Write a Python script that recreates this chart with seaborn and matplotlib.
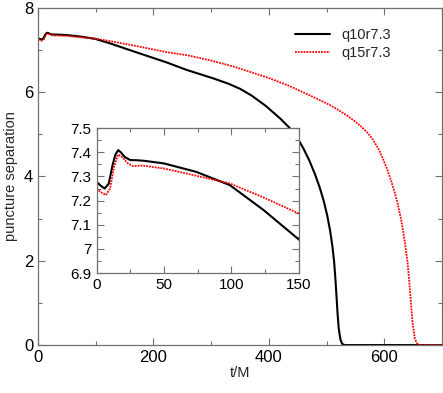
import pandas as pd
import matplotlib
matplotlib.use("Agg")
import matplotlib.pyplot as plt
import seaborn as sns
from matplotlib.ticker import MultipleLocator

# q10r7.3 (black)
t_q10 = [0, 3, 6, 9, 12, 14, 16, 18, 21, 25, 30, 35, 50, 74, 99, 124, 150,
         176, 200, 222, 257, 280, 303, 330, 350, 370, 395, 420, 436, 450,
         460, 470, 480, 488, 495, 501, 506, 510, 513, 515, 517, 519, 521,
         524, 527, 531, 700]
sep_q10 = [7.278, 7.262, 7.25, 7.27, 7.35, 7.39, 7.409, 7.40, 7.38, 7.368,
           7.367, 7.365, 7.354, 7.319, 7.264, 7.161, 7.04,
           6.92, 6.81, 6.71, 6.53, 6.43, 6.33, 6.2, 6.08, 5.92, 5.67, 5.37,
           5.15, 4.9, 4.66, 4.38, 4.05, 3.74, 3.42, 3.08, 2.72, 2.35, 1.98,
           1.62, 1.2, 0.75, 0.4, 0.13, 0.03, 0.0, 0.0]

# q15r7.3 (red)
t_q15 = [0, 3, 7, 10, 13, 16, 19, 23, 27, 34, 50, 74, 99, 124, 150,
         176, 222, 257, 300, 338, 370, 401, 435, 470, 505, 520, 536, 550,
         562, 572, 580, 590, 597, 605, 611, 618, 623, 628, 632, 636, 640,
         643, 646, 649, 653, 658, 662, 700]
sep_q15 = [7.25, 7.235, 7.223, 7.25, 7.34, 7.391, 7.38, 7.355, 7.343,
           7.345, 7.333, 7.303, 7.271, 7.213, 7.147,
           7.08, 6.95, 6.88, 6.75, 6.61, 6.47, 6.33, 6.15, 5.93, 5.70, 5.58,
           5.44, 5.3, 5.16, 5.02, 4.88, 4.65, 4.44, 4.17, 3.93, 3.62, 3.36,
           3.05, 2.75, 2.4, 2.0, 1.55, 1.02, 0.52, 0.14, 0.01, 0.0, 0.0]

df_q10 = pd.DataFrame({"t": t_q10, "sep": sep_q10})
df_q15 = pd.DataFrame({"t": t_q15, "sep": sep_q15})

sns.set_style("ticks")
plt.rcParams["font.family"] = ["Liberation Sans", "DejaVu Sans"]
plt.rcParams["font.size"] = 10.5

AXCOL = "#707070"


def style_axes(ax, labelsize):
    for s in ax.spines.values():
        s.set_color(AXCOL)
        s.set_linewidth(0.9)
    ax.tick_params(which="both", direction="in", top=True, right=True,
                   color=AXCOL, labelcolor="black", labelsize=labelsize)
    ax.tick_params(which="major", length=5, width=0.8)
    ax.tick_params(which="minor", length=3, width=0.8)


fig = plt.figure(figsize=(4.43, 3.93), dpi=100)
ax = fig.add_axes([0.0858, 0.122, 0.912, 0.858])

sns.lineplot(data=df_q10, x="t", y="sep", ax=ax, color="black", lw=1.5,
             sort=False, label="q10r7.3")
sns.lineplot(data=df_q15, x="t", y="sep", ax=ax, color="red", lw=1.3,
             linestyle=(0, (1, 0.6)), sort=False, label="q15r7.3")

ax.set_xlim(0, 700)
ax.set_ylim(0, 8)
ax.xaxis.set_major_locator(MultipleLocator(200))
ax.xaxis.set_minor_locator(MultipleLocator(100))
ax.yaxis.set_major_locator(MultipleLocator(2))
ax.yaxis.set_minor_locator(MultipleLocator(1))
ax.set_xlabel("t/M", labelpad=1)
ax.set_ylabel("puncture separation", labelpad=4)
style_axes(ax, 12)
ax.legend(loc="upper right", frameon=False, handlelength=2.4,
          bbox_to_anchor=(0.906, 0.98), labelspacing=0.3)

# inset zoom on early times
axin = fig.add_axes([0.218, 0.305, 0.456, 0.369])
sns.lineplot(data=df_q10, x="t", y="sep", ax=axin, color="black", lw=1.5,
             sort=False, legend=False)
sns.lineplot(data=df_q15, x="t", y="sep", ax=axin, color="red", lw=1.3,
             linestyle=(0, (1, 0.6)), sort=False, legend=False)
axin.set_xlim(0, 150)
axin.set_ylim(6.9, 7.5)
axin.xaxis.set_major_locator(MultipleLocator(50))
axin.xaxis.set_minor_locator(MultipleLocator(25))
axin.yaxis.set_minor_locator(MultipleLocator(0.05))
axin.set_yticks([6.9, 7.0, 7.1, 7.2, 7.3, 7.4, 7.5])
axin.set_yticklabels(["6.9", "7", "7.1", "7.2", "7.3", "7.4", "7.5"])
axin.set_xlabel("")
axin.set_ylabel("")
style_axes(axin, 11)

fig.savefig("out.png", dpi=100)
